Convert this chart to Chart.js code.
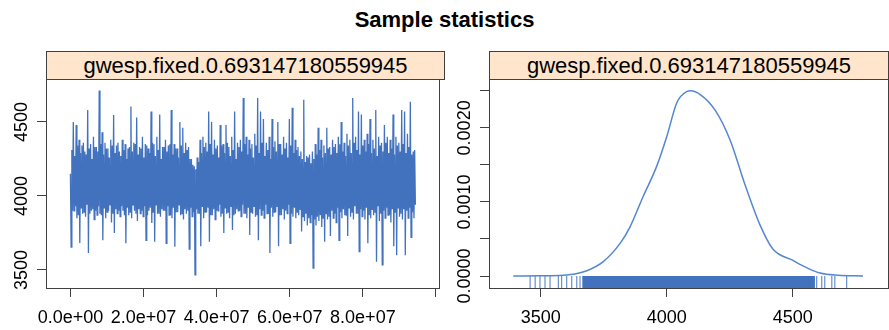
<!DOCTYPE html>
<html>
<head>
<meta charset="utf-8">
<script src="https://cdn.jsdelivr.net/npm/chart.js@4.4.0/dist/chart.umd.min.js"></script>
<style>
  body { margin: 0; background: #fff; font-family: "Liberation Sans", Arial, sans-serif; }
  #wrap { position: relative; width: 889px; height: 330px; overflow: hidden; }
  #title { position: absolute; left: 0; top: 7px; width: 889px; text-align: center; font-weight: bold; font-size: 22px; color: #000; }
  .strip { position: absolute; top: 51px; height: 29px; box-sizing: border-box; border: 1px solid #404040; background: #ffe5cc; text-align: center; font-size: 22px; line-height: 27px; color: #000; }
  .panel { position: absolute; top: 79px; height: 251px; width: 446px; }
</style>
</head>
<body>
<div id="wrap">
  <div id="title">Sample statistics</div>
  <div class="strip" style="left:46px; width:399px;">gwesp.fixed.0.693147180559945</div>
  <div class="strip" style="left:489px; width:400px;">gwesp.fixed.0.693147180559945</div>
  <div class="panel" style="left:0px;"><canvas id="trace-chart" width="446" height="251"></canvas></div>
  <div class="panel" style="left:443px;"><canvas id="density-chart" width="446" height="251"></canvas></div>
</div>
<script>
// saved MCMC samples (spike, dip, then the dense core)
const traceValues = [
  4150, 3655, 4310, 3900,  4500, 3900, 4270, 3930,  4480, 3850, 4340, 3870,  4380, 3682, 4290, 3920,
  4340, 3880, 4360, 3890,  4300, 3860, 4280, 3940,  4580, 3615, 4320, 3880,  4350, 3900, 4250, 3910,
  4400, 3840, 4330, 3900,  4330, 3870, 4300, 3930,  4712, 3880, 4350, 3870,  4430, 3700, 4280, 3920,
  4360, 3850, 4320, 3890,  4320, 3900, 4260, 3940,  4380, 3820, 4340, 3880,  4547, 3750, 4290, 3910,
  4340, 3880, 4360, 3900,  4300, 3860, 4270, 3930,  4380, 3900, 4310, 3870,  4350, 3680, 4250, 3920,
  4320, 3870, 4330, 3890,  4604, 3850, 4300, 3940,  4360, 3900, 4350, 3880,  4530, 3830, 4280, 3910,
  4330, 3880, 4320, 3900,  4400, 3860, 4260, 3930,  4350, 3700, 4340, 3870,  4320, 3900, 4290, 3920,
  4570, 3817, 4360, 3890,  4350, 3691, 4270, 3940,  4400, 3880, 4310, 3880,  4550, 3860, 4250, 3910,
  4330, 3900, 4330, 3900,  4380, 3680, 4300, 3930,  4340, 3870, 4350, 3870,  4580, 3850, 4280, 3920,
  4350, 3657, 4320, 3890,  4320, 3890, 4260, 3940,  4500, 3870, 4340, 3880,  4460, 3840, 4290, 3910,
  4360, 3880, 4310, 3900,  4330, 3640, 4250, 3920,  4250, 3860, 4210, 3890,  4200, 3466, 4180, 3910,
  4260, 3880, 4230, 3880,  4380, 3660, 4290, 3930,  4400, 3850, 4330, 3890,  4360, 3890, 4300, 3920,
  4570, 3690, 4350, 3870,  4500, 3870, 4280, 3910,  4380, 3840, 4320, 3900,  4340, 3900, 4260, 3940,
  4480, 3860, 4340, 3880,  4350, 3750, 4290, 3920,  4480, 3880, 4360, 3890,  4330, 3850, 4270, 3930,
  4400, 3770, 4310, 3870,  4570, 3880, 4250, 3910,  4360, 3900, 4330, 3900,  4380, 3860, 4300, 3940,
  4662, 3880, 4350, 3880,  4400, 3850, 4280, 3920,  4380, 3736, 4320, 3890,  4350, 3880, 4260, 3930,
  4420, 3860, 4340, 3870,  4662, 3700, 4290, 3910,  4570, 3870, 4360, 3900,  4520, 3850, 4270, 3940,
  4360, 3880, 4310, 3880,  4400, 3615, 4250, 3920,  4520, 3860, 4330, 3890,  4370, 3890, 4300, 3930,
  4500, 3660, 4350, 3870,  4350, 3870, 4280, 3910,  4400, 3840, 4320, 3900,  4360, 3880, 4260, 3940,
  4520, 3680, 4340, 3880,  4595, 3860, 4290, 3920,  4380, 3850, 4310, 3890,  4330, 3870, 4270, 3910,
  4300, 3760, 4250, 3860,  4650, 3830, 4230, 3880,  4270, 3800, 4260, 3850,  4280, 3820, 4220, 3870,
  4300, 3513, 4250, 3840,  4350, 3800, 4280, 3860,  4460, 3830, 4310, 3870,  4380, 3790, 4260, 3850,
  4340, 3690, 4290, 3880,  4460, 3840, 4320, 3860,  4330, 3730, 4280, 3900,  4380, 3850, 4330, 3880,
  4350, 3820, 4290, 3920,  4400, 3700, 4350, 3890,  4500, 3850, 4300, 3910,  4360, 3870, 4270, 3870,
  4420, 3730, 4340, 3920,  4380, 3860, 4290, 3890,  4662, 3840, 4360, 3930,  4400, 3880, 4310, 3880,
  4570, 3624, 4280, 3910,  4550, 3860, 4340, 3900,  4380, 3840, 4300, 3920,  4420, 3680, 4350, 3870,
  4520, 3850, 4290, 3910,  4380, 3870, 4320, 3890,  4580, 3556, 4270, 3930,  4400, 3830, 4340, 3880,
  4360, 3534, 4300, 3900,  4480, 3850, 4360, 3920,  4400, 3870, 4290, 3870,  4380, 3820, 4320, 3910,
  4550, 3660, 4280, 3890,  4400, 3600, 4340, 3920,  4360, 3860, 4300, 3880,  4580, 3840, 4350, 3910,
  4570, 3600, 4290, 3900,  4420, 3850, 4330, 3920,  4637, 3720, 4280, 3890,  4300, 3850, 4310, 3940
];
const thinInterval = 197000;

// kernel density estimate
const densityX = [3391, 3500, 3588, 3640, 3683, 3747, 3815, 3854, 3906, 3960, 4000, 4040, 4079, 4095,
                  4133, 4192, 4251, 4311, 4370, 4422, 4501, 4557, 4608, 4680, 4779];
const densityY = [0, 0.000002, 0.00001, 0.00003, 0.00007, 0.00019, 0.00044, 0.00066, 0.00107, 0.00148,
                  0.00188, 0.00234, 0.00249, 0.0025, 0.00245, 0.00224, 0.00184, 0.00123, 0.00069,
                  0.00036, 0.00021, 0.00011, 0.00004, 0.00001, 0];

// rug: sparse tail values plus the dense middle band
const rugTails = [3458, 3478, 3497, 3517, 3537, 3570, 3583, 3603, 3623, 3643, 3656,
                  4595, 4615, 4627, 4655, 4667, 4714];
const rugDenseRange = [3665, 4588];

// axis ticks
const traceXTicks = [0, 2e7, 4e7, 6e7, 8e7, 1e8];
const traceXLabels = ["0.0e+00", "2.0e+07", "4.0e+07", "6.0e+07", "8.0e+07", ""];
const traceYTicks = [3500, 4000, 4500];
const traceYLabels = ["3500", "4000", "4500"];
const densXTicks = [3500, 4000, 4500];
const densXLabels = ["3500", "4000", "4500"];
const densYTicks = [0, 0.0005, 0.001, 0.0015, 0.002, 0.0025];
const densYLabels = ["0.0000", "", "0.0010", "", "0.0020", ""];

const lineBlue = "rgb(66,114,190)";
const axisColor = "#404040";
const tickFont = { family: "'Liberation Sans', Arial, sans-serif", size: 18 };

Chart.defaults.animation = false;

const boxPlugin = {
    id: "box",
    afterDraw(chart) {
        const a = chart.chartArea;
        const ctx = chart.ctx;
        ctx.save();
        ctx.strokeStyle = axisColor;
        ctx.lineWidth = 1;
        ctx.strokeRect(Math.round(a.left) + 0.5, Math.round(a.top) + 0.5,
                       Math.round(a.right - a.left), Math.round(a.bottom - a.top));
        // rotated y tick labels, R style
        const ys = chart.scales.y;
        const labels = chart.options.plugins.box.yLabels;
        ctx.fillStyle = "#000";
        ctx.font = "18px 'Liberation Sans', Arial, sans-serif";
        ctx.textAlign = "center";
        ctx.textBaseline = "middle";
        chart.options.plugins.box.yTicks.forEach((v, i) => {
            if (!labels[i]) return;
            ctx.save();
            ctx.translate(a.left - 24, ys.getPixelForValue(v));
            ctx.rotate(-Math.PI / 2);
            ctx.fillText(labels[i], 0, 0);
            ctx.restore();
        });
        ctx.restore();
    }
};

const rugPlugin = {
    id: "rug",
    beforeDatasetsDraw(chart) {
        const a = chart.chartArea;
        const xs = chart.scales.x;
        const y0 = chart.scales.y.getPixelForValue(0);
        const ctx = chart.ctx;
        ctx.save();
        ctx.fillStyle = lineBlue;
        const x1 = xs.getPixelForValue(rugDenseRange[0]);
        const x2 = xs.getPixelForValue(rugDenseRange[1]);
        ctx.fillRect(x1, y0, x2 - x1, a.bottom - y0);
        ctx.strokeStyle = "rgba(66,114,190,0.8)";
        ctx.lineWidth = 1.2;
        rugTails.forEach(v => {
            const x = xs.getPixelForValue(v);
            ctx.beginPath();
            ctx.moveTo(x, y0);
            ctx.lineTo(x, a.bottom);
            ctx.stroke();
        });
        ctx.restore();
    }
};

function axisOptions(min, max, ticks, labels, isX, hideLabels) {
    return {
        type: "linear",
        min: min,
        max: max,
        afterBuildTicks: s => { s.ticks = ticks.map(v => ({ value: v })); },
        afterFit: s => {
            if (isX) s.height = 42; else s.width = 46;
        },
        border: { display: false },
        grid: { drawOnChartArea: false, drawTicks: true, tickLength: 9, color: axisColor, lineWidth: 1 },
        ticks: {
            display: !hideLabels,
            color: "#000",
            font: tickFont,
            padding: 10,
            maxRotation: 0,
            autoSkip: false,
            callback: (value, index) => labels[index]
        }
    };
}

function drawTrace() {
    const points = traceValues.map((v, i) => ({ x: i * thinInterval, y: v }));
    new Chart(document.getElementById("trace-chart").getContext("2d"), {
        type: "line",
        data: {
            datasets: [{
                data: points,
                borderColor: lineBlue,
                borderWidth: 1.3,
                pointRadius: 0,
                tension: 0
            }]
        },
        options: {
            responsive: false,
            layout: { padding: { left: 0, right: 2, top: 0, bottom: 0 } },
            plugins: {
                legend: { display: false },
                tooltip: { enabled: false },
                box: { yTicks: traceYTicks, yLabels: traceYLabels }
            },
            scales: {
                x: axisOptions(-6.68e6, 1.0089e8, traceXTicks, traceXLabels, true, false),
                y: axisOptions(3378, 4790, traceYTicks, traceYLabels, false, true)
            }
        },
        plugins: [boxPlugin]
    });
}

function drawDensity() {
    const points = densityX.map((x, i) => ({ x: x, y: densityY[i] }));
    new Chart(document.getElementById("density-chart").getContext("2d"), {
        type: "line",
        data: {
            datasets: [{
                data: points,
                borderColor: "rgb(84,134,210)",
                borderWidth: 1.5,
                pointRadius: 0,
                cubicInterpolationMode: "monotone"
            }]
        },
        options: {
            responsive: false,
            layout: { padding: { left: 0, right: 1, top: 0, bottom: 0 } },
            plugins: {
                legend: { display: false },
                tooltip: { enabled: false },
                box: { yTicks: densYTicks, yLabels: densYLabels }
            },
            scales: {
                x: axisOptions(3294.8, 4878, densXTicks, densXLabels, true, false),
                y: axisOptions(-0.000162, 0.00266, densYTicks, densYLabels, false, true)
            }
        },
        plugins: [rugPlugin, boxPlugin]
    });
}

document.addEventListener("DOMContentLoaded", () => {
    drawTrace();
    drawDensity();
});
</script>
</body>
</html>
